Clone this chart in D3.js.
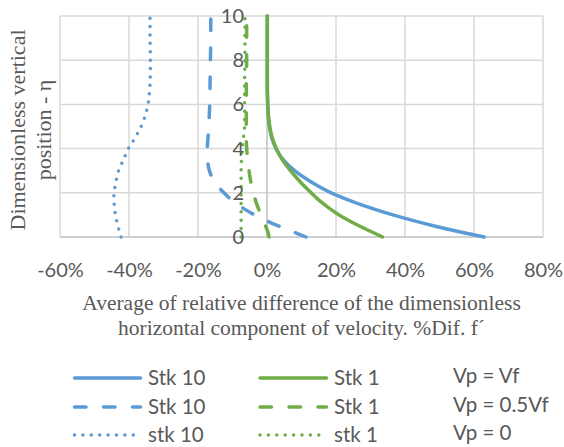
<!DOCTYPE html>
<html>
<head>
<meta charset="utf-8">
<script src="https://cdn.jsdelivr.net/npm/d3@7"></script>
<style>
  body { margin: 0; background: #fff; }
  .tick text { font-family: Lato, sans-serif; font-size: 20px; fill: #595959; }
  .axis-title { font-family: "Liberation Serif", serif; fill: #595959; }
  .legend text { font-family: Lato, sans-serif; font-size: 20.5px; fill: #595959; }
</style>
</head>
<body>
<div id="chart"></div>
<script>
// dimensionless vertical position (y values)
const eta = [0, 0.25, 0.5, 0.75, 1, 1.25, 1.5, 1.75, 2, 2.5, 3, 3.5, 4, 4.5, 5, 6, 7, 8, 9, 10];

// % difference of f' for each case
const stk10Vf   = [63, 55.4, 48.5, 42.2, 36.5, 31.3, 26.6, 22.4, 18.6, 12.7, 8, 4.7, 2.6, 1.35, 0.7, 0.22, 0.1, 0.1, 0.1, 0.1];
const stk1Vf    = [33.5, 30.1, 26.8, 23.7, 20.9, 18.5, 16.4, 14.5, 12.8, 9.6, 6.8, 4.4, 2.7, 1.5, 0.8, 0.2, 0.05, 0.05, 0.05, 0.05];
const stk10Half = [11.3, 7.3, 3.3, -0.4, -3.6, -6.4, -8.8, -10.8, -12.5, -15.2, -16.7, -17.2, -17.3, -17.1, -16.9, -16.6, -16.5, -16.4, -16.3, -16.3];
const stk1Half  = [0.6, 0.2, -0.4, -1, -1.7, -2.4, -3, -3.5, -4, -4.7, -5.2, -5.6, -5.9, -6, -6, -6, -6, -5.9, -5.9, -5.9];
const stk10Zero = [-42.3, -42.8, -43.2, -43.6, -43.9, -44.2, -44.3, -44.4, -44.3, -43.8, -43, -41.6, -40.2, -38.2, -36.5, -34.5, -33.9, -33.8, -33.9, -33.9];
const stk1Zero  = [-7.5, -7.5, -7.5, -7.5, -7.5, -7.5, -7.5, -7.5, -7.5, -7.5, -7.5, -7.4, -7.2, -6.8, -6.5, -6.5, -6.5, -6.4, -6.4, -6.4];

const xTicks = [-60, -40, -20, 0, 20, 40, 60, 80];
const yTicks = [0, 2, 4, 6, 8, 10];

const legendBlue  = ['Stk 10', 'Stk 10', 'stk 10'];
const legendGreen = ['Stk 1', 'Stk 1', 'stk 1'];
const legendVp    = ['Vp = Vf', 'Vp = 0.5Vf', 'Vp = 0'];

const blue = '#5b9bd5', green = '#70ad47';

const lineStyles = {
  solid:  {dash: null, width: 3.5},
  dashed: {dash: '11.5,17.5', width: 3.5},
  dotted: {dash: '0,8.4', width: 3.5}
};

const series = [
  {values: stk10Vf,   color: blue,  style: 'solid'},
  {values: stk1Vf,    color: green, style: 'solid'},
  {values: stk10Half, color: blue,  style: 'dashed'},
  {values: stk1Half,  color: green, style: 'dashed'},
  {values: stk10Zero, color: blue,  style: 'dotted'},
  {values: stk1Zero,  color: green, style: 'dotted'}
];

const width = 564, height = 447;
const plot = {left: 60, right: 543, top: 16, bottom: 237};

const svg = d3.select('#chart').append('svg')
  .attr('width', width)
  .attr('height', height);

const x = d3.scaleLinear().domain([-60, 80]).range([plot.left, plot.right]);
const y = d3.scaleLinear().domain([0, 10]).range([plot.bottom, plot.top]);

// gridlines
svg.append('g').selectAll('line')
  .data(xTicks.filter(d => d !== 0))
  .join('line')
  .attr('x1', d => x(d)).attr('x2', d => x(d))
  .attr('y1', plot.top).attr('y2', plot.bottom)
  .attr('stroke', '#d9d9d9').attr('stroke-width', 1.5);

svg.append('g').selectAll('line')
  .data(yTicks.filter(d => d !== 0))
  .join('line')
  .attr('x1', plot.left).attr('x2', plot.right)
  .attr('y1', d => y(d)).attr('y2', d => y(d))
  .attr('stroke', '#d9d9d9').attr('stroke-width', 1.5);

// axis lines
svg.append('line')
  .attr('x1', plot.left).attr('x2', plot.right)
  .attr('y1', y(0)).attr('y2', y(0))
  .attr('stroke', '#bfbfbf').attr('stroke-width', 1.5);
svg.append('line')
  .attr('x1', x(0)).attr('x2', x(0))
  .attr('y1', plot.top).attr('y2', plot.bottom)
  .attr('stroke', '#bfbfbf').attr('stroke-width', 1.5);

// series
const line = d3.line()
  .x(d => x(d[1]))
  .y(d => y(d[0]))
  .curve(d3.curveMonotoneY);

svg.append('g').selectAll('path')
  .data(series)
  .join('path')
  .attr('d', s => line(eta.map((e, i) => [e, s.values[i]])))
  .attr('fill', 'none')
  .attr('stroke', s => s.color)
  .attr('stroke-width', s => lineStyles[s.style].width)
  .attr('stroke-dasharray', s => lineStyles[s.style].dash)
  .attr('stroke-linecap', 'round');

// axes (labels only)
const xAxis = svg.append('g')
  .attr('transform', `translate(0,${plot.bottom})`)
  .call(d3.axisBottom(x).tickValues(xTicks).tickSize(0).tickPadding(26).tickFormat(d => d + '%'));
xAxis.select('.domain').remove();

const yAxis = svg.append('g')
  .attr('transform', `translate(${x(0)},0)`)
  .call(d3.axisLeft(y).tickValues(yTicks).tickSize(0).tickPadding(23));
yAxis.select('.domain').remove();

// axis titles
const xTitle = svg.append('text')
  .attr('class', 'axis-title')
  .attr('text-anchor', 'middle')
  .attr('font-size', 21.5);
xTitle.append('tspan').attr('x', (plot.left + plot.right) / 2).attr('y', 310)
  .text('Average of relative difference of the dimensionless');
xTitle.append('tspan').attr('x', (plot.left + plot.right) / 2).attr('y', 335)
  .text('horizontal component of velocity. %Dif. f´');

const yTitle = svg.append('text')
  .attr('class', 'axis-title')
  .attr('text-anchor', 'middle')
  .attr('font-size', 22)
  .attr('transform', 'rotate(-90)');
yTitle.append('tspan').attr('x', -130).attr('y', 25).text('Dimensionless vertical');
yTitle.append('tspan').attr('x', -130).attr('y', 51).text('position - η');

// legend
const rowY = [378, 407, 435];
const styles = ['solid', 'dashed', 'dotted'];
const legend = svg.append('g').attr('class', 'legend');

const cols = [
  {color: blue,  x0: 74.5, x1: 140.5, textX: 148, labels: legendBlue},
  {color: green, x0: 260,  x1: 326.5, textX: 334, labels: legendGreen}
];

cols.forEach(c => {
  styles.forEach((st, i) => {
    legend.append('line')
      .attr('x1', c.x0).attr('x2', st === 'dotted' ? c.x1 - 6 : c.x1)
      .attr('y1', rowY[i]).attr('y2', rowY[i])
      .attr('stroke', c.color)
      .attr('stroke-width', lineStyles[st].width)
      .attr('stroke-dasharray', lineStyles[st].dash)
      .attr('stroke-linecap', 'round');
    legend.append('text')
      .attr('x', c.textX).attr('y', rowY[i] + 7)
      .text(c.labels[i]);
  });
});

legend.selectAll('.vp')
  .data(legendVp)
  .join('text')
  .attr('class', 'vp')
  .attr('x', 453)
  .attr('y', (d, i) => rowY[i] + 5)
  .text(d => d);
</script>
</body>
</html>
